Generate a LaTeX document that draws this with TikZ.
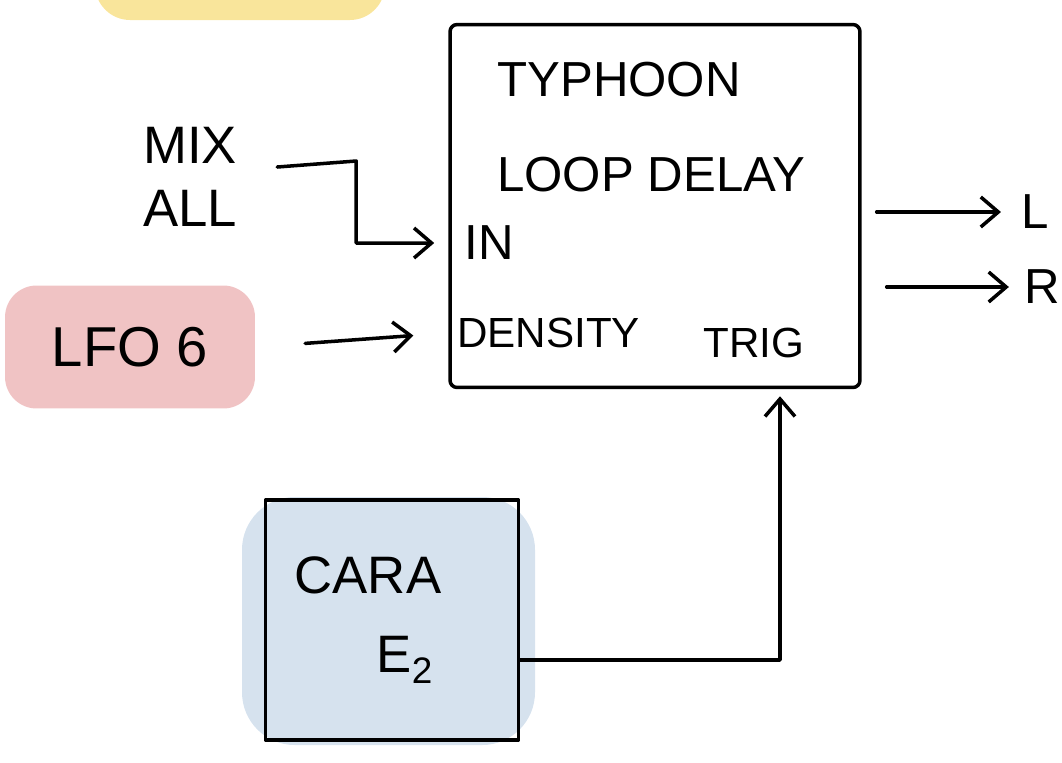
\documentclass[tikz,border=0pt]{standalone}
\usepackage{xcolor}
\usepackage{fontspec}
\setmainfont{Liberation Sans}
\usetikzlibrary{positioning}
\usetikzlibrary{calc}
\usetikzlibrary{arrows.meta}
\definecolor{yellowblob}{HTML}{F9E59B}
\definecolor{pinkblob}{HTML}{F0C3C4}
\definecolor{blueblob}{HTML}{D6E2EE}
\tikzset{
  wire/.style={line width=2pt, line cap=round, line join=round},
  sig/.style={wire, -{Straight Barb[length=3.5mm,width=6mm,line width=2pt]}, shorten >=4pt},
  hand/.style={font=\fontsize{28}{34}\selectfont, inner sep=0pt},
  small/.style={font=\fontsize{24}{28}\selectfont, inner sep=0pt},
}

\begin{document}
\begin{tikzpicture}[x=0.02cm,y=-0.02cm]
  \useasboundingbox (0,0) rectangle (1062,762);
  \clip (0,0) rectangle (1062,762);
  % highlighter blobs
  \fill[yellowblob, rounded corners=20] (95,-40) rectangle (385,20);
  \fill[blueblob, rounded corners=30] (242,497) rectangle (535,745);

  % delay module
  \node[draw, wire, rounded corners=4pt, minimum width=8.2cm, minimum height=7.26cm] (typhoon) at (655,206) {};
  \node[hand, align=left, anchor=north west] (typhoonname) at (497,62) {TYPHOON\\[20pt]LOOP DELAY};
  \node[hand, anchor=west] (in) at (464,243) {IN};
  \node[small, anchor=west] (density) at (457,333) {DENSITY};
  \node[small] (trig) at (754,343) {TRIG};

  % sources
  \node[hand, align=center, font=\fontsize{30}{36}\selectfont] (mix) at (190,177) {MIX\\ALL};
  \node[hand, font=\fontsize{32}{36}\selectfont, fill=pinkblob, rounded corners=18pt,
        minimum width=5cm, minimum height=2.46cm] (lfo) at (130,347) {LFO 6};
  \node[draw, wire, minimum width=5.06cm, minimum height=4.8cm] (cara) at (392,620) {};
  \node[hand, font=\fontsize{30}{36}\selectfont] (caraname) at (368,575) {CARA};
  \node[hand, font=\fontsize{30}{36}\selectfont] (caraout) at (405,660) {E\textsubscript{2}};

  % outputs
  \node[hand] (outl) at (1035,212) {L};
  \node[hand] (outr) at (1042,287) {R};

  % connections
  \draw[sig, shorten >=8pt] ([xshift=0.8cm,yshift=0.2cm]mix.east) -- ++(79,-6) |- (typhoon.west |- in);
  \draw[sig, shorten <=1cm, shorten >=0.7cm] (lfo.east) -- (typhoon.west |- density);
  \draw[sig, shorten <=0.3cm, shorten >=0.4cm] (typhoon.east |- outl) -- (outl.west);
  \draw[sig, shorten <=0.5cm, shorten >=0.3cm] (typhoon.east |- outr) -- (outr.west);
  \draw[sig] (cara.east |- caraout) -| ($(typhoon.south -| trig)+(26,0)$);
\end{tikzpicture}
\end{document}
